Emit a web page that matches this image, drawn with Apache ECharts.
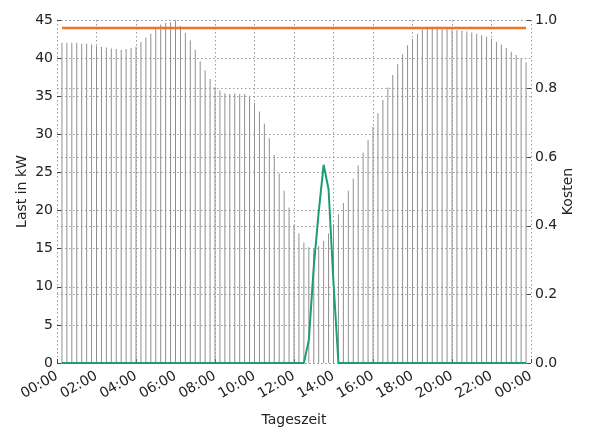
<!DOCTYPE html>
<html>
<head>
<meta charset="utf-8">
<script src="https://cdn.jsdelivr.net/npm/echarts@6/dist/echarts.min.js"></script>
<style>html,body{margin:0;padding:0;background:#fff}#c{width:595px;height:441px}</style>
</head>
<body>
<div id="c"></div>
<script>
// 15-minute slots from 00:15 to 23:45 (hours of day)
const slotCount = 95;
const slots = Array.from({length: slotCount}, (_, k) => (k + 1) * 0.25);

// Last in kW (bars)
const load = [
  42.0, 42.0, 42.0, 42.0, 41.9, 41.9, 41.8, 41.6, 41.5, 41.4,
  41.25, 41.2, 41.1, 41.2, 41.3, 41.5, 42.1, 42.7, 43.2, 43.85,
  44.4, 44.6, 44.7, 44.8, 44.2, 43.3, 42.3, 41.1, 39.6, 38.4,
  37.25, 36.2, 35.75, 35.4, 35.3, 35.4, 35.3, 35.25, 34.9, 34.1,
  33.0, 31.4, 29.5, 27.3, 24.9, 22.6, 20.4, 18.1, 17.0, 15.8,
  15.2, 15.1, 15.35, 16.0, 17.0, 18.2, 19.5, 21.0, 22.6, 24.2,
  25.9, 27.6, 29.3, 31.0, 32.75, 34.5, 36.15, 37.8, 39.2, 40.5,
  41.7, 42.5, 43.2, 43.75, 44.0, 44.1, 44.1, 44.0, 43.9, 43.8,
  43.7, 43.6, 43.5, 43.35, 43.2, 43.0, 42.85, 42.55, 42.15, 41.8,
  41.35, 40.85, 40.4, 40.0, 39.45
];

// green line (kW)
const green = [
  0, 0, 0, 0, 0, 0, 0, 0, 0, 0,
  0, 0, 0, 0, 0, 0, 0, 0, 0, 0,
  0, 0, 0, 0, 0, 0, 0, 0, 0, 0,
  0, 0, 0, 0, 0, 0, 0, 0, 0, 0,
  0, 0, 0, 0, 0, 0, 0, 0, 0, 0,
  3.0, 12.6, 19.8, 26.0, 22.8, 10.5, 0, 0, 0, 0,
  0, 0, 0, 0, 0, 0, 0, 0, 0, 0,
  0, 0, 0, 0, 0, 0, 0, 0, 0, 0,
  0, 0, 0, 0, 0, 0, 0, 0, 0, 0,
  0, 0, 0, 0, 0
];

// orange limit line (kW)
const limitValue = 43.95;

const leftTicks = {min: 0, max: 45, interval: 5};
const rightTicks = {min: 0, max: 1, interval: 0.2};
const xTicks = {min: 0, max: 24, interval: 2};

const font = 'DejaVu Sans';
const txt = '#222';
const fs = 14;
const gridLine = {show: true, lineStyle: {color: '#9a9a9a', type: [1.5, 2.5], width: 1}};
const tick = {show: true, inside: true, length: 4, lineStyle: {color: '#444'}};

const chart = echarts.init(document.getElementById('c'), null, {renderer: 'canvas'});
chart.setOption({
  animation: false,
  backgroundColor: '#fff',
  grid: {left: 57, right: 64, top: 20, bottom: 78, containLabel: false},
  xAxis: {
    type: 'value', min: xTicks.min, max: xTicks.max, interval: xTicks.interval,
    name: 'Tageszeit', nameLocation: 'middle', nameGap: 50, nameMoveOverlap: false,
    nameTextStyle: {fontFamily: font, fontSize: fs, color: txt},
    axisLine: {show: false},
    axisTick: tick,
    splitLine: gridLine,
    axisLabel: {
      rotate: 30, margin: 12, fontFamily: font, fontSize: fs, color: txt,
      formatter: v => String(v % 24).padStart(2, '0') + ':00'
    }
  },
  yAxis: [
    {
      type: 'value', min: leftTicks.min, max: leftTicks.max, interval: leftTicks.interval,
      name: 'Last in kW', nameLocation: 'middle', nameGap: 28, nameMoveOverlap: false,
      nameTextStyle: {fontFamily: font, fontSize: fs, color: txt},
      axisLine: {show: false}, axisTick: tick, splitLine: gridLine,
      axisLabel: {margin: 4, fontFamily: font, fontSize: fs, color: txt}
    },
    {
      type: 'value', min: rightTicks.min, max: rightTicks.max, interval: rightTicks.interval,
      name: 'Kosten', nameLocation: 'middle', nameGap: 30, nameMoveOverlap: false,
      nameTextStyle: {fontFamily: font, fontSize: fs, color: txt},
      axisLine: {show: false}, axisTick: tick, splitLine: gridLine,
      axisLabel: {margin: 4, fontFamily: font, fontSize: fs, color: txt, formatter: v => v.toFixed(1)}
    }
  ],
  series: [
    {
      type: 'bar', yAxisIndex: 0, barWidth: 1,
      itemStyle: {color: '#8f8f8f'},
      data: slots.map((t, k) => [t, load[k]]), z: 2
    },
    {
      type: 'line', yAxisIndex: 0, showSymbol: false,
      lineStyle: {color: '#1b9e77', width: 2}, itemStyle: {color: '#1b9e77'},
      data: slots.map((t, k) => [t, green[k]]), z: 4
    },
    {
      type: 'line', yAxisIndex: 0, showSymbol: false,
      lineStyle: {color: '#f07424', width: 2.5}, itemStyle: {color: '#f07424'},
      data: slots.map(t => [t, limitValue]), z: 5
    }
  ]
});
</script>
</body>
</html>
